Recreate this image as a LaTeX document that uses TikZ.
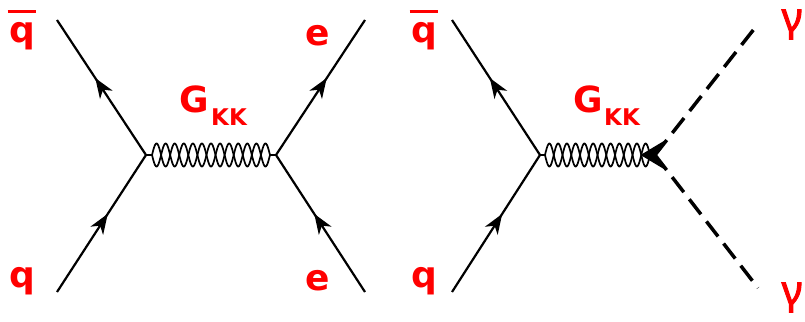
\documentclass[tikz,border=0pt]{standalone}
\usepackage{fontspec}
\setmainfont{DejaVu Sans}
\newfontfamily\gamfont[FakeBold=2.5]{Noto Sans}
\usetikzlibrary{decorations.markings,arrows.meta}
\tikzset{
  fline/.style={line width=2.2pt, postaction={decorate, decoration={markings, mark=at position 0.57 with {\arrow{Stealth[length=20pt,width=15pt,inset=6pt]}}}}},
  glue/.style={line width=1.7pt},
  phot/.style={line width=3.5pt, dash pattern=on 19pt off 9pt},
  lbl/.style={text=red, font=\fontsize{36}{40}\selectfont\bfseries, inner sep=0pt, anchor=base},
  lblG/.style={text=red, font=\fontsize{36}{40}\selectfont\bfseries, inner sep=0pt, anchor=base},
  lblK/.style={text=red, font=\fontsize{23}{26}\selectfont\bfseries, inner sep=0pt, anchor=base},
  lblY/.style={text=red, font=\fontsize{40}{44}\selectfont\gamfont, inner sep=0pt, anchor=base},
}
\newcommand{\qbarlbl}{\raisebox{30pt}[0pt][0pt]{\makebox[0pt][l]{\hspace{-1.5pt}\rule{28pt}{3pt}}}q}
\begin{document}
\begin{tikzpicture}[x=1pt,y=-1pt]
\useasboundingbox (0,0) rectangle (805,321);
% left diagram
\coordinate (a1) at (57,20);
\coordinate (b1) at (57,292);
\coordinate (v1) at (146,155);
\coordinate (v2) at (276,155);
\coordinate (c1) at (365,20);
\coordinate (d1) at (365,292);
\draw[fline] (v1) -- (a1);
\draw[fline] (b1) -- (v1);
\draw[fline] (v2) -- (c1);
\draw[fline] (d1) -- (v2);
% gluon (two antiphase sines)
\draw[glue] (v1) -- ++(6,0);
\draw[glue] (v2) -- ++(-6,0);
\begin{scope}[shift={(v1)}]
  \draw[glue] plot[domain=0:118, samples=300] ({6+\x}, {11.5*sin(\x*19.8305)});
  \draw[glue] plot[domain=0:118, samples=300] ({6+\x}, {-11.5*sin(\x*19.8305)});
\end{scope}
% right diagram
\coordinate (a2) at (452,20);
\coordinate (b2) at (452,292);
\coordinate (v3) at (540,155);
\coordinate (v4) at (655,155);
\coordinate (g1) at (758,24);
\coordinate (g2) at (758,288);
\draw[fline] (v3) -- (a2);
\draw[fline] (b2) -- (v3);
\draw[glue] (v3) -- ++(5,0);
\draw[glue] (v4) -- ++(-5,0);
\begin{scope}[shift={(v3)}]
  \draw[glue] plot[domain=0:105, samples=300] ({5+\x}, {11.5*sin(\x*20.5714)});
  \draw[glue] plot[domain=0:105, samples=300] ({5+\x}, {-11.5*sin(\x*20.5714)});
\end{scope}
\draw[phot] (v4) -- (g1);
\draw[phot] (v4) -- (g2);
\coordinate (tipL) at (642,155);
\draw[line width=1.5pt, fill=black] (tipL) -- (662,143) -- (655,155) -- (662,167) -- cycle;
% labels
\node[lbl] (qb1) at (22,43) {\qbarlbl};
\node[lbl] (q1) at (22,287) {q};
\node[lblG] (G1) at (194,112) {G};
\node[lblK] (K1) at (229,125) {KK};
\node[lbl] (e1) at (318,46) {e};
\node[lbl] (e2) at (318,290) {e};
\node[lbl] (qb2) at (424,43) {\qbarlbl};
\node[lbl] (q2) at (424,287) {q};
\node[lblG] (G2) at (588,112) {G};
\node[lblK] (K2) at (622,125) {KK};
\node[lblY] (y1) at (792,31) {γ};
\node[lblY] (y2) at (792,304) {γ};
\end{tikzpicture}
\end{document}
